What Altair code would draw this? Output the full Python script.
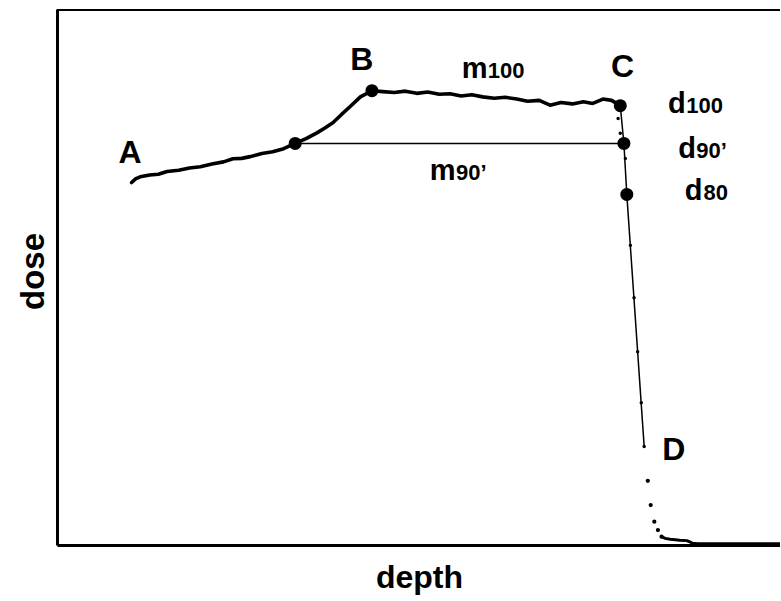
import altair as alt
import pandas as pd

# Depth-dose profile: build-up (A-B), plateau (B-C), fall-off (C-D) and tail
curve_depth = [10.3, 10.9, 11.5, 12.8, 14.0, 15.2, 16.8, 18.3, 19.8, 21.4, 23.0, 24.3,
               25.5, 26.7, 28.3, 29.8, 31.3, 32.9, 34.4, 35.9, 37.0, 38.1, 39.3, 40.5,
               41.9, 43.5, 45.0, 46.6, 48.1, 49.7, 51.2, 52.8, 54.3, 55.8, 57.3, 58.8,
               60.4, 61.9, 63.5, 65.0, 66.6, 68.1, 69.6, 71.2, 72.7, 74.0, 75.4, 76.6, 77.8]
curve_dose = [82.5, 83.4, 83.8, 84.2, 84.4, 85.0, 85.3, 85.8, 86.1, 86.7, 87.2, 87.9,
              88.0, 88.4, 89.1, 89.5, 90.2, 91.4, 92.5, 93.8, 94.9, 96.1, 98.0, 99.8,
              102.0, 103.4, 103.2, 103.0, 103.3, 102.8, 103.1, 102.6, 102.7, 102.2, 102.5, 102.0,
              101.7, 101.9, 101.5, 101.0, 101.2, 100.1, 100.7, 100.4, 100.9, 100.5, 101.5, 101.2, 100.0]

# distal fall-off (thin line)
fall_depth = [77.8, 78.3, 78.7, 81.1]
fall_dose = [100.0, 91.4, 79.8, 22.4]

# measured points along the fall-off
fall_pt_depth = [77.5, 77.8, 78.5, 79.2, 79.7, 80.2, 80.7, 81.1]
fall_pt_dose = [97.1, 93.7, 88.0, 68.2, 56.3, 44.0, 32.4, 22.4]

# tail beyond D
tail_depth = [81.6, 82.0, 82.5, 83.0, 83.5]
tail_dose = [14.6, 9.1, 5.3, 3.4, 1.9]
floor_depth = [83.5, 84.0, 84.7, 85.4, 86.0, 87.0, 87.4, 87.8, 88.5, 92.0, 96.0, 100.0]
floor_dose = [1.9, 1.5, 1.3, 1.2, 1.1, 1.0, 0.7, 0.4, 0.3, 0.3, 0.3, 0.3]

# characteristic points: m90', B, d100 (C), d90', d80
key_depth = [32.9, 43.5, 77.8, 78.3, 78.7]
key_dose = [91.4, 103.4, 100.0, 91.4, 79.8]

# m90' width line
m90_depth = [32.9, 78.3]
m90_dose = [91.4, 91.4]

# annotations
letter_text = ["A", "B", "C", "D"]
letter_depth = [10.1, 42.1, 78.1, 85.2]
letter_dose = [87.0, 108.1, 106.5, 19.3]

base_text = ["m", "d", "d", "d", "m"]
base_depth = [55.9, 84.4, 85.8, 86.7, 51.5]
base_dose = [106.3, 98.3, 88.1, 78.5, 83.1]
sub_text = ["100", "100", "90\u2019", "80", "90\u2019"]
sub_depth = [59.5, 86.9, 88.3, 89.3, 55.1]

W, H = 723, 536
FONT = "Liberation Sans"

xs = alt.Scale(domain=[0, 99.86])
ys = alt.Scale(domain=[0, 122])
x_axis = alt.Axis(title="depth", ticks=False, labels=False, grid=False,
                  domainColor="black", domainWidth=3,
                  titleFont=FONT, titleFontSize=32, titleFontWeight="bold", titleColor="black",
                  titleX=362, titleY=42, titleAlign="center", titleBaseline="alphabetic")
y_axis = alt.Axis(title="dose", ticks=False, labels=False, grid=False,
                  domainColor="black", domainWidth=3,
                  titleFont=FONT, titleFontSize=33, titleFontWeight="bold", titleColor="black",
                  titleAngle=270, titleX=-14, titleY=262, titleAlign="center",
                  titleBaseline="alphabetic")


def xe():
    return alt.X("depth:Q", scale=xs, axis=x_axis)


def ye():
    return alt.Y("dose:Q", scale=ys, axis=y_axis)


def df(d, v, **extra):
    out = pd.DataFrame({"depth": d, "dose": v})
    for k, val in extra.items():
        out[k] = val
    return out


curve = alt.Chart(df(curve_depth, curve_dose)).mark_line(
    color="black", strokeWidth=3.6, strokeJoin="round", strokeCap="round"
).encode(x=xe(), y=ye())

fall = alt.Chart(df(fall_depth, fall_dose)).mark_line(
    color="black", strokeWidth=1.5
).encode(x=xe(), y=ye())

fall_pts = alt.Chart(df(fall_pt_depth, fall_pt_dose)).mark_circle(
    color="black", opacity=1, size=12
).encode(x=xe(), y=ye())

tail = alt.Chart(df(tail_depth, tail_dose)).mark_circle(
    color="black", opacity=1, size=18
).encode(x=xe(), y=ye())

floor = alt.Chart(df(floor_depth, floor_dose)).mark_line(
    color="black", strokeWidth=3, strokeCap="round"
).encode(x=xe(), y=ye())

m90 = alt.Chart(df(m90_depth, m90_dose)).mark_line(
    color="black", strokeWidth=1.4
).encode(x=xe(), y=ye())

keys = alt.Chart(df(key_depth, key_dose)).mark_circle(
    color="black", opacity=1, size=170
).encode(x=xe(), y=ye())

letters = alt.Chart(df(letter_depth, letter_dose, label=letter_text)).mark_text(
    font=FONT, fontSize=32, fontWeight="bold", color="black",
    align="center", baseline="alphabetic"
).encode(x=xe(), y=ye(), text="label:N")

bases = alt.Chart(df(base_depth, base_dose, label=base_text)).mark_text(
    font=FONT, fontSize=29, fontWeight="bold", color="black",
    align="left", baseline="alphabetic"
).encode(x=xe(), y=ye(), text="label:N")

subs = alt.Chart(df(sub_depth, base_dose, label=sub_text)).mark_text(
    font=FONT, fontSize=22, fontWeight="bold", color="black",
    align="left", baseline="alphabetic"
).encode(x=xe(), y=ye(), text="label:N")

# top edge of the frame
top_edge = alt.Chart(pd.DataFrame({"k": [0]})).mark_rule(
    color="black", strokeWidth=2
).encode(x=alt.value(0), x2=alt.value(W), y=alt.value(1))

chart = alt.layer(
    top_edge, m90, fall, fall_pts, floor, tail, curve, keys, letters, bases, subs
).properties(
    width=W, height=H,
    autosize=alt.AutoSizeParams(type="none"),
    padding={"left": 57, "top": 9, "right": 0, "bottom": 52},
).configure_view(stroke=None).configure(background="white")

chart.save("out.html", embed_options={"renderer": "svg", "actions": False})
